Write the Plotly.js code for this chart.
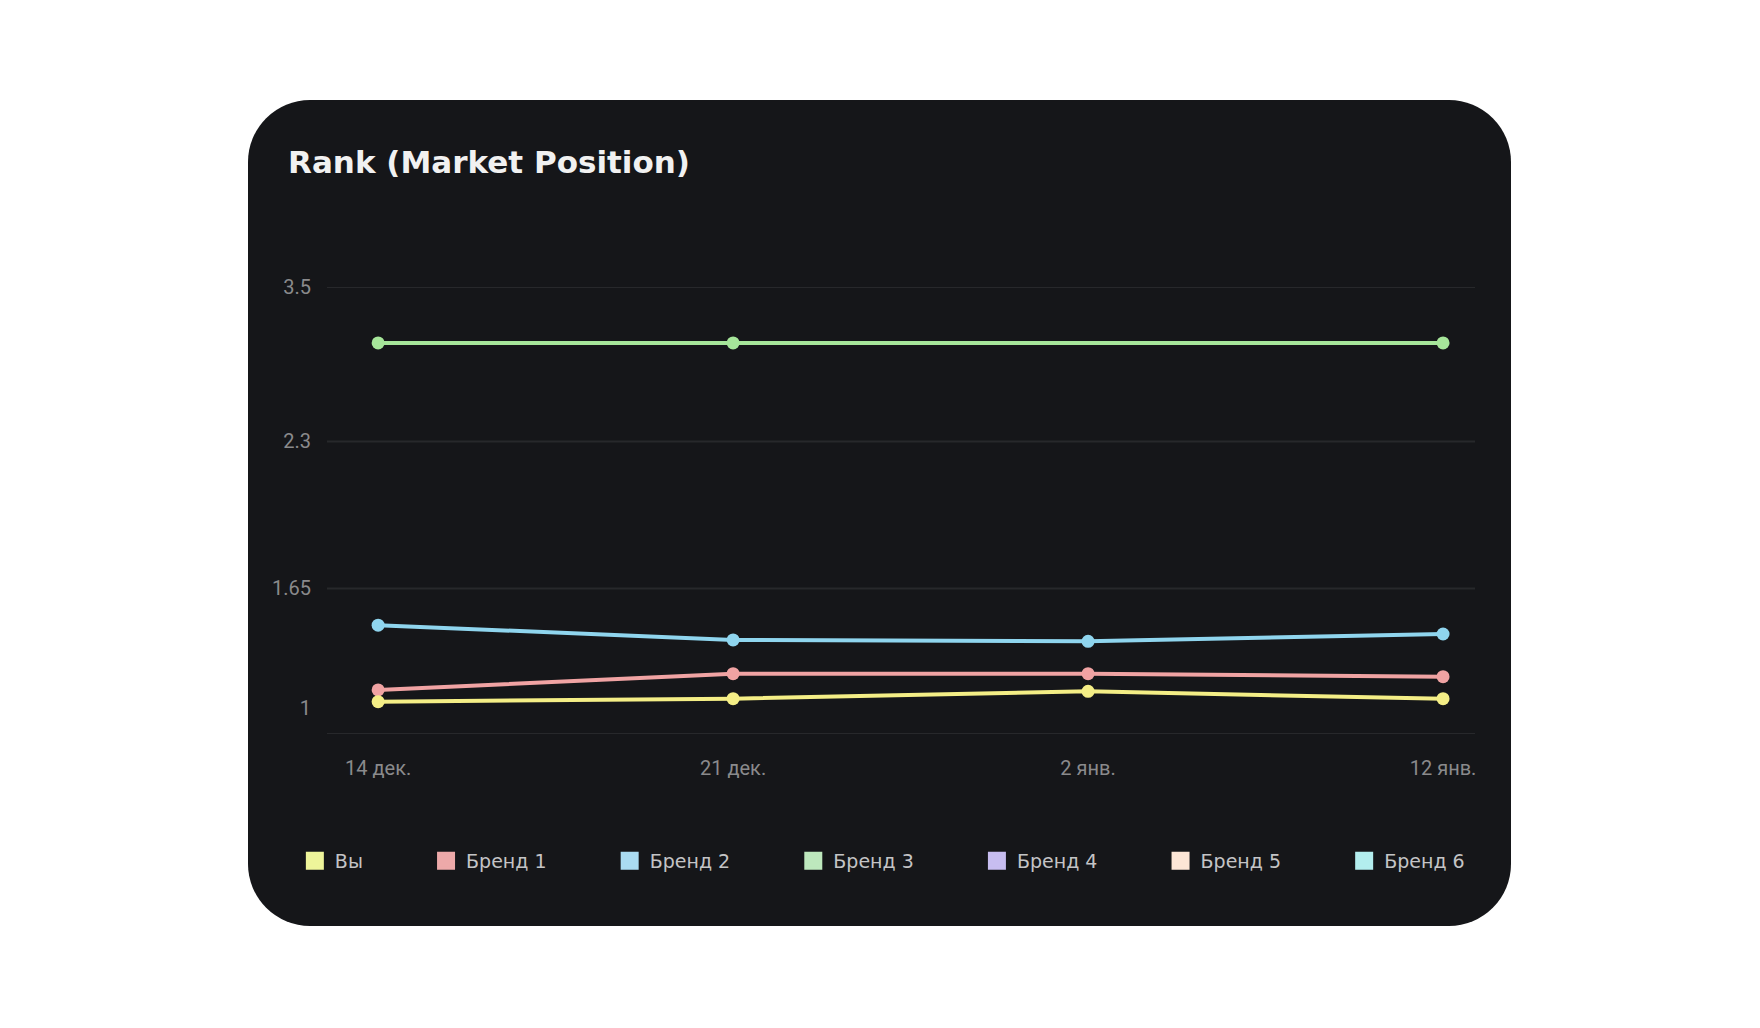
<!DOCTYPE html>
<html>
<head>
<meta charset="utf-8">
<script src="https://cdn.plot.ly/plotly-3.0.1.min.js"></script>
<style>
  html, body { margin: 0; padding: 0; background: #ffffff; }
  body { width: 1760px; height: 1028px; position: relative; overflow: hidden; }
  #card {
    position: absolute; left: 248px; top: 100px;
    width: 1263px; height: 826px;
    border-radius: 62px; background: #151619; overflow: hidden;
  }
  #rank_chart { width: 1263px; height: 826px; }
</style>
</head>
<body>
<div id="card"><div id="rank_chart"></div></div>
<script>
// dates on the x axis
var dates = ['14 дек.', '21 дек.', '2 янв.', '12 янв.'];

// y axis: the labels sit on an uneven scale, so values are kept in axis levels
var tickLevels = [0.18, 0.99, 1.99, 3.04];
var tickLabels = ['1', '1.65', '2.3', '3.5'];
var gridLevels = [0, 0.99, 1.99, 3.04];

// series, in axis levels (null = no point that week)
var you    = [0.22, 0.24, 0.29, 0.24];
var brand1 = [0.30, 0.41, 0.41, 0.39];
var brand2 = [0.74, 0.64, 0.63, 0.68];
var brand3 = [2.66, 2.66, null, 2.66];

var seriesNames = ['Вы', 'Бренд 1', 'Бренд 2', 'Бренд 3', 'Бренд 4', 'Бренд 5', 'Бренд 6'];
var lineColors  = ['#f4ee86', '#f0a3a3', '#8fd5ee', '#a6e69a'];
var legendColors = ['#eef59a', '#eda9a9', '#aadcf2', '#bde8bd', '#c7bdf0', '#fde6d6', '#b3eeee'];

function lineTrace(y, color) {
    return {
        x: dates,
        y: y,
        type: 'scatter',
        mode: 'lines+markers',
        connectgaps: true,
        cliponaxis: false,
        showlegend: false,
        hoverinfo: 'skip',
        line: {color: color, width: 4},
        marker: {color: color, size: 13}
    };
}

var data = [
    lineTrace(brand3, lineColors[3]),
    lineTrace(brand2, lineColors[2]),
    lineTrace(brand1, lineColors[1]),
    lineTrace(you, lineColors[0])
];

// legend entries are drawn as square swatches, spaced out with nbsp
var pad = '\u00A0'.repeat(9) + '\u2009';
seriesNames.forEach(function (name, i) {
    var last = i === seriesNames.length - 1;
    data.push({
        x: [null],
        y: [null],
        type: 'scatter',
        mode: 'markers',
        name: last ? name : name + pad,
        hoverinfo: 'skip',
        marker: {symbol: 'square', size: 15, color: legendColors[i],
                 line: {color: legendColors[i], width: 3}}
    });
});

var shapes = gridLevels.map(function (v) {
    return {
        type: 'line', layer: 'below',
        xref: 'paper', x0: 0, x1: 1,
        yref: 'y', y0: v, y1: v,
        line: {color: '#27282b', width: 2}
    };
});

var layout = {
    width: 1263,
    height: 826,
    paper_bgcolor: 'rgba(0,0,0,0)',
    plot_bgcolor: 'rgba(0,0,0,0)',
    margin: {l: 79, r: 36, t: 187, b: 192},
    title: {
        text: 'Rank (Market Position)',
        xref: 'container', x: 0.0317, xanchor: 'left',
        yref: 'container', y: 0.925, yanchor: 'middle',
        font: {family: '"DejaVu Sans", sans-serif', size: 31, weight: 700, color: '#f1f1f1'}
    },
    xaxis: {
        type: 'category',
        range: [-0.144, 3.09],
        showgrid: false,
        zeroline: false,
        showline: false,
        ticks: '',
        ticklabelstandoff: 20,
        tickfont: {family: 'Roboto, sans-serif', size: 20, color: '#8a8a8c'}
    },
    yaxis: {
        range: [0, 3.04],
        tickmode: 'array',
        tickvals: tickLevels,
        ticktext: tickLabels,
        showgrid: false,
        zeroline: false,
        showline: false,
        ticks: '',
        ticklabelstandoff: 15,
        tickfont: {family: 'Roboto, sans-serif', size: 20, color: '#8a8a8c'}
    },
    shapes: shapes,
    showlegend: true,
    legend: {
        orientation: 'h',
        x: -0.028, xanchor: 'left',
        y: -0.284, yanchor: 'middle',
        bgcolor: 'rgba(0,0,0,0)',
        font: {family: '"DejaVu Sans", sans-serif', size: 19, color: '#c4c4c6'}
    },
    hovermode: false
};

Plotly.newPlot('rank_chart', data, layout, {displayModeBar: false, staticPlot: true});
</script>
</body>
</html>
